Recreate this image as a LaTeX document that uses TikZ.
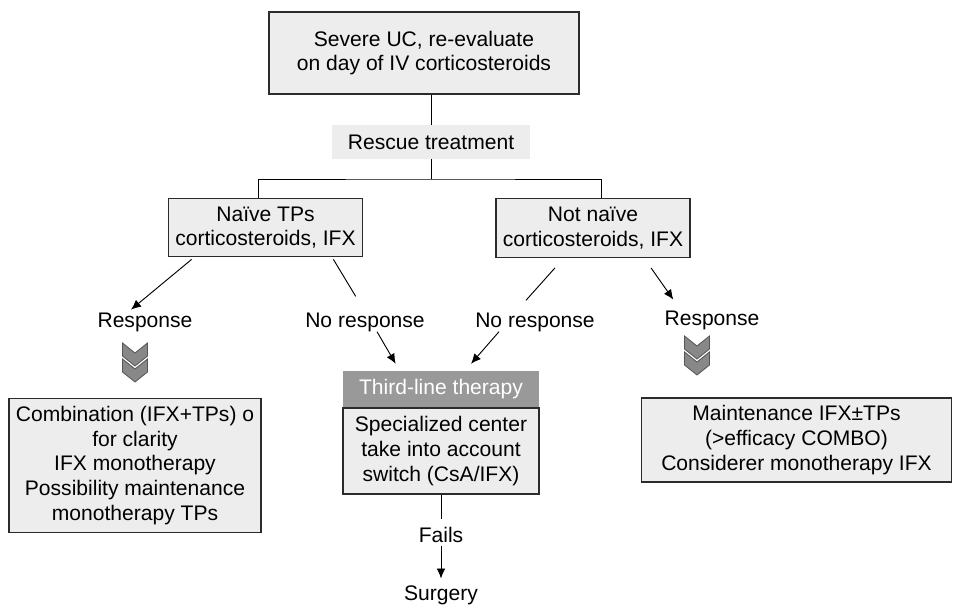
\documentclass[tikz,border=0pt]{standalone}
\usepackage{fontspec}
\setmainfont{Liberation Sans}
\usetikzlibrary{arrows.meta}
\definecolor{boxgray}{HTML}{EDEDED}
\definecolor{headgray}{HTML}{999999}
\definecolor{chevgray}{HTML}{888888}
\definecolor{chevline}{HTML}{555555}
\definecolor{linegray}{HTML}{2B2B2B}

\begin{document}
\begin{tikzpicture}[x=0.75pt,y=-0.75pt]
\tikzset{box/.style = {shape=rectangle,draw=linegray,fill=boxgray,line width=0.8pt,inner sep=0pt,align=center,font=\fontsize{15.8}{18.5}\selectfont}}
\tikzset{plain/.style = {inner sep=2pt,font=\fontsize{15.8}{18.5}\selectfont}}
\tikzset{link/.style = {line width=0.7pt}}
\tikzset{edge/.style = {->,> = {Latex[length=7.5pt,width=6.5pt]},line width=0.7pt}}
\tikzset{chevron/.style = {fill=chevgray,draw=chevline,line width=0.6pt}}
\useasboundingbox (0,0) rectangle (956,605);

\node[box,minimum width=232.5pt,minimum height=61.5pt] (start) at (424,53) {Severe UC, re-evaluate\\on day of IV corticosteroids};
\node[box,draw=none,minimum width=149pt,minimum height=25pt] (rescue) at (431,142) {Rescue treatment};
\node[box,minimum width=146pt,minimum height=43pt] (naive) at (265.5,227.5) {Naïve TPs\\corticosteroids, IFX};
\node[box,minimum width=145.5pt,minimum height=44pt] (notnaive) at (593,228) {Not naïve\\corticosteroids, IFX};

\node[plain] (respL) at (145,322) {Response};
\node[plain] (norespL) at (365,322) {No response};
\node[plain] (norespR) at (535,322) {No response};
\node[plain] (respR) at (712,320) {Response};

\node[box,draw=none,fill=headgray,text=white,minimum width=147pt,minimum height=27pt] (third) at (441,389) {Third-line therapy};
\node[box,minimum width=147pt,minimum height=64.5pt] (special) at (441,451) {Specialized center\\take into account\\switch (CsA/IFX)};
\node[plain] (fails) at (441,535) {Fails};
\node[plain] (surgery) at (441,595) {Surgery};

\node[box,minimum width=189pt,minimum height=101pt] (combo) at (135,465.5) {Combination (IFX+TPs) o\\for clarity\\IFX monotherapy\\Possibility maintenance\\monotherapy TPs};
\node[box,minimum width=232pt,minimum height=63pt] (maint) at (796.5,440) {Maintenance IFX±TPs\\(>efficacy COMBO)\\Considerer monotherapy IFX};

\coordinate (split) at (431,179);
\draw[link] (rescue.north) -- (rescue.north |- start.south);
\draw[link] (rescue.south) -- (split);
\draw[link] ([xshift=-5pt]naive.north) |- (split) -| ([xshift=6pt]notnaive.north);

\draw[edge] ([xshift=18pt,yshift=-2pt]naive.south west) -- ([xshift=-10.5pt]respL.north);
\draw[link] ([xshift=-22.5pt,yshift=-2pt]naive.south east) -- ([xshift=-7pt,yshift=10pt]norespL.north);
\draw[link] ([xshift=-28.5pt,yshift=-7.5pt]notnaive.south) -- ([xshift=-6.75pt,yshift=7pt]norespR.north);
\draw[edge] ([xshift=43.5pt,yshift=-7.5pt]notnaive.south) -- ([xshift=-29pt,yshift=6pt]respR.north);
\draw[edge] ([xshift=9pt,yshift=2pt]norespL.south) -- ([xshift=-34pt,yshift=5pt]third.north);
\draw[edge] ([xshift=-27pt,yshift=2pt]norespR.south) -- ([xshift=22.5pt,yshift=5pt]third.north);
\draw[link] (special.south) -- ([yshift=4pt]fails.north);
\draw[edge,shorten >=3pt] (fails.south) -- (surgery.north);

% double chevrons under each response
\foreach \cx/\cy in {135/343,135/359,697/336,697/352}
  \draw[chevron] (\cx-12.5,\cy) -- ++(12.5,10) -- ++(12.5,-10) -- ++(0,13) -- ++(-12.5,10) -- ++(-12.5,-10) -- cycle;
\end{tikzpicture}
\end{document}
